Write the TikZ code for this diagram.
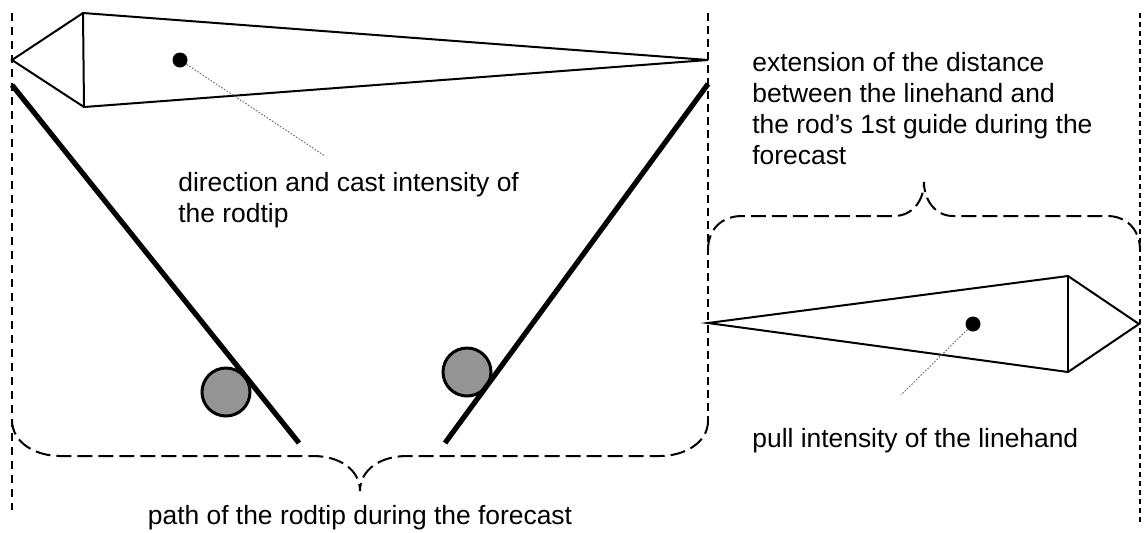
\documentclass[tikz,border=0pt]{standalone}
\usepackage{fontspec}
\setmainfont{Liberation Sans}
\begin{document}
\begin{tikzpicture}[x=0.5pt,y=-0.5pt,
  fish/.style={line width=1pt, line join=miter},
  rod/.style={line width=2.6pt},
  ball/.style={circle, draw, line width=1.5pt, fill=black!42, minimum size=24pt, inner sep=0pt},
  dotnode/.style={circle, fill=black, minimum size=7.5pt, inner sep=0pt},
  leader/.style={black!60, line width=0.45pt, dash pattern=on 0.8pt off 0.8pt},
  lbl/.style={font=\fontsize{13.2}{15.5}\selectfont, inner sep=0pt, align=left},
  brace/.style={line width=1pt, dash pattern=on 7.5pt off 3pt},
  vdashA/.style={line width=1pt, dash pattern=on 4pt off 3pt},
  vdashB/.style={line width=1pt, dash pattern=on 4pt off 2.5pt},
  vdashC/.style={line width=1pt, dash pattern=on 2.5pt off 2pt}
]
\useasboundingbox (0,0) rectangle (1147,532);

% vertical dashed guide lines
\coordinate (va1) at (12,13);  \coordinate (va2) at (12,510);
\coordinate (vb1) at (708,13); \coordinate (vb2) at (708,421);
\coordinate (vc1) at (1140,13); \coordinate (vc2) at (1140,525);
\draw[vdashA] (va1) -- (va2);
\draw[vdashB] (vb1) -- (vb2);
\draw[vdashC] (vc1) -- (vc2);

% upper arrow-like shape
\draw[fish] (12,60) -- (83,13) -- (708,60) -- (84,107) -- cycle;
\draw[fish] (83,13) -- (84,107);
% right arrow-like shape
\draw[fish] (708,323) -- (1068,276) -- (1139,324) -- (1068,372) -- cycle;
\draw[fish] (1068,276) -- (1068,372);

% balls and rods
\node[ball] (b1) at (226,392) {};
\node[ball] (b2) at (467,372) {};
\coordinate (r1a) at (12,85);  \coordinate (r1b) at (299,443);
\coordinate (r2a) at (708,84); \coordinate (r2b) at (445,443);
\draw[rod] (r1a) -- (r1b);
\draw[rod] (r2a) -- (r2b);

% dots with leaders
\node[dotnode] (d1) at (180,60) {};
\coordinate (d1e) at (325,156);
\draw[leader] (d1) -- (d1e);
\node[dotnode] (d2) at (973,324) {};
\coordinate (d2e) at (901,395);
\draw[leader] (d2) -- (d2e);

% braces
\draw[brace] (12,420) .. controls (12,443) and (36,456) .. (60,456)
  -- (313,456) .. controls (340,456) and (360,470) .. (360,491)
  .. controls (360,470) and (380,456) .. (407,456)
  -- (660,456) .. controls (684,456) and (708,443) .. (708,421);
\draw[brace] (708,250) .. controls (708,229) and (722,216) .. (742,216)
  -- (894,216) .. controls (912,216) and (924,201) .. (924,182)
  .. controls (924,201) and (936,216) .. (953,216)
  -- (1107,216) .. controls (1127,216) and (1140,230) .. (1140,250);

% labels
\node[lbl, anchor=north west] (ext) at (752,52) {extension of the distance\\between the linehand and\\the rod’s 1st guide during the\\forecast};
\node[lbl, anchor=north west] (dir) at (178,172) {direction and cast intensity of\\the rodtip};
\node[lbl, anchor=north west] (pull) at (752,428) {pull intensity of the linehand};
\node[lbl, anchor=north] (path) at (360,505) {path of the rodtip during the forecast};
\end{tikzpicture}
\end{document}
